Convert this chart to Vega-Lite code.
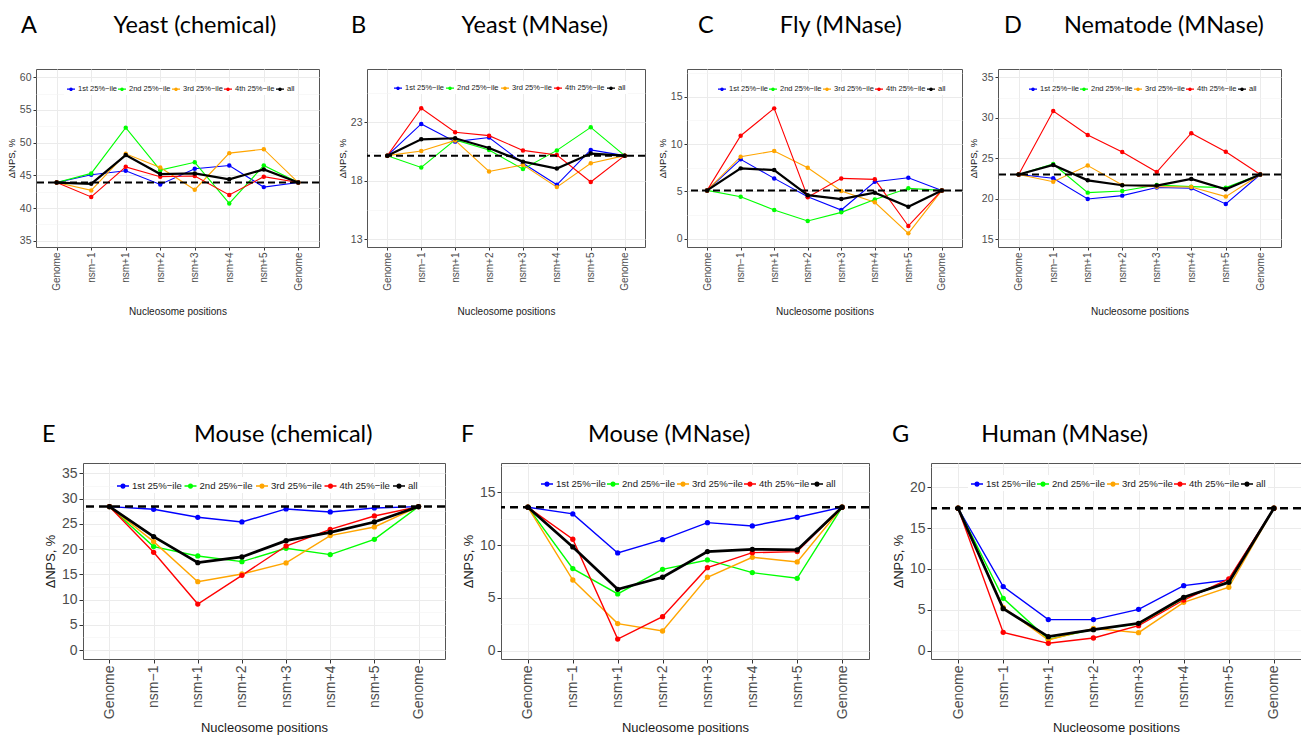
{
"$schema": "https://vega.github.io/schema/vega-lite/v6.json",
"background": "white",
"padding": {"left": 5, "top": 13, "right": 0, "bottom": 0},
"autosize": {"type": "pad"},
"spacing": 394,
"bounds": "flush",
"resolve": {"scale": {"color": "independent", "fill": "independent"}, "legend": {"color": "independent", "fill": "independent"}},
"datasets": {"d": [
{"p":"A","x":0,"s":"q1","v":43.9},{"p":"A","x":1,"s":"q1","v":45.1},{"p":"A","x":2,"s":"q1","v":45.7},{"p":"A","x":3,"s":"q1","v":43.6},{"p":"A","x":4,"s":"q1","v":46.0},{"p":"A","x":5,"s":"q1","v":46.5},{"p":"A","x":6,"s":"q1","v":43.2},{"p":"A","x":7,"s":"q1","v":43.9},
{"p":"A","x":0,"s":"q2","v":43.9},{"p":"A","x":1,"s":"q2","v":45.3},{"p":"A","x":2,"s":"q2","v":52.3},{"p":"A","x":3,"s":"q2","v":45.8},{"p":"A","x":4,"s":"q2","v":47.0},{"p":"A","x":5,"s":"q2","v":40.7},{"p":"A","x":6,"s":"q2","v":46.5},{"p":"A","x":7,"s":"q2","v":43.9},
{"p":"A","x":0,"s":"q3","v":43.9},{"p":"A","x":1,"s":"q3","v":42.7},{"p":"A","x":2,"s":"q3","v":48.3},{"p":"A","x":3,"s":"q3","v":46.2},{"p":"A","x":4,"s":"q3","v":42.8},{"p":"A","x":5,"s":"q3","v":48.4},{"p":"A","x":6,"s":"q3","v":49.0},{"p":"A","x":7,"s":"q3","v":43.9},
{"p":"A","x":0,"s":"q4","v":43.9},{"p":"A","x":1,"s":"q4","v":41.7},{"p":"A","x":2,"s":"q4","v":46.3},{"p":"A","x":3,"s":"q4","v":44.8},{"p":"A","x":4,"s":"q4","v":44.9},{"p":"A","x":5,"s":"q4","v":42.0},{"p":"A","x":6,"s":"q4","v":44.8},{"p":"A","x":7,"s":"q4","v":43.9},
{"p":"A","x":0,"s":"all","v":43.9},{"p":"A","x":1,"s":"all","v":43.7},{"p":"A","x":2,"s":"all","v":48.1},{"p":"A","x":3,"s":"all","v":45.2},{"p":"A","x":4,"s":"all","v":45.3},{"p":"A","x":5,"s":"all","v":44.4},{"p":"A","x":6,"s":"all","v":45.9},{"p":"A","x":7,"s":"all","v":43.9},
{"p":"B","x":0,"s":"q1","v":20.15},{"p":"B","x":1,"s":"q1","v":22.86},{"p":"B","x":2,"s":"q1","v":21.35},{"p":"B","x":3,"s":"q1","v":21.7},{"p":"B","x":4,"s":"q1","v":19.5},{"p":"B","x":5,"s":"q1","v":17.66},{"p":"B","x":6,"s":"q1","v":20.64},{"p":"B","x":7,"s":"q1","v":20.15},
{"p":"B","x":0,"s":"q2","v":20.15},{"p":"B","x":1,"s":"q2","v":19.14},{"p":"B","x":2,"s":"q2","v":21.5},{"p":"B","x":3,"s":"q2","v":20.64},{"p":"B","x":4,"s":"q2","v":19.0},{"p":"B","x":5,"s":"q2","v":20.6},{"p":"B","x":6,"s":"q2","v":22.57},{"p":"B","x":7,"s":"q2","v":20.15},
{"p":"B","x":0,"s":"q3","v":20.15},{"p":"B","x":1,"s":"q3","v":20.55},{"p":"B","x":2,"s":"q3","v":21.45},{"p":"B","x":3,"s":"q3","v":18.8},{"p":"B","x":4,"s":"q3","v":19.36},{"p":"B","x":5,"s":"q3","v":17.46},{"p":"B","x":6,"s":"q3","v":19.5},{"p":"B","x":7,"s":"q3","v":20.15},
{"p":"B","x":0,"s":"q4","v":20.15},{"p":"B","x":1,"s":"q4","v":24.2},{"p":"B","x":2,"s":"q4","v":22.15},{"p":"B","x":3,"s":"q4","v":21.86},{"p":"B","x":4,"s":"q4","v":20.6},{"p":"B","x":5,"s":"q4","v":20.2},{"p":"B","x":6,"s":"q4","v":17.9},{"p":"B","x":7,"s":"q4","v":20.15},
{"p":"B","x":0,"s":"all","v":20.15},{"p":"B","x":1,"s":"all","v":21.55},{"p":"B","x":2,"s":"all","v":21.64},{"p":"B","x":3,"s":"all","v":20.8},{"p":"B","x":4,"s":"all","v":19.64},{"p":"B","x":5,"s":"all","v":19.05},{"p":"B","x":6,"s":"all","v":20.33},{"p":"B","x":7,"s":"all","v":20.15},
{"p":"C","x":0,"s":"q1","v":5.1},{"p":"C","x":1,"s":"q1","v":8.38},{"p":"C","x":2,"s":"q1","v":6.37},{"p":"C","x":3,"s":"q1","v":4.44},{"p":"C","x":4,"s":"q1","v":3.03},{"p":"C","x":5,"s":"q1","v":6.02},{"p":"C","x":6,"s":"q1","v":6.44},{"p":"C","x":7,"s":"q1","v":5.1},
{"p":"C","x":0,"s":"q2","v":5.1},{"p":"C","x":1,"s":"q2","v":4.44},{"p":"C","x":2,"s":"q2","v":3.03},{"p":"C","x":3,"s":"q2","v":1.87},{"p":"C","x":4,"s":"q2","v":2.78},{"p":"C","x":5,"s":"q2","v":4.15},{"p":"C","x":6,"s":"q2","v":5.32},{"p":"C","x":7,"s":"q2","v":5.1},
{"p":"C","x":0,"s":"q3","v":5.1},{"p":"C","x":1,"s":"q3","v":8.66},{"p":"C","x":2,"s":"q3","v":9.26},{"p":"C","x":3,"s":"q3","v":7.5},{"p":"C","x":4,"s":"q3","v":5.04},{"p":"C","x":5,"s":"q3","v":3.84},{"p":"C","x":6,"s":"q3","v":0.56},{"p":"C","x":7,"s":"q3","v":5.1},
{"p":"C","x":0,"s":"q4","v":5.1},{"p":"C","x":1,"s":"q4","v":10.88},{"p":"C","x":2,"s":"q4","v":13.77},{"p":"C","x":3,"s":"q4","v":4.37},{"p":"C","x":4,"s":"q4","v":6.37},{"p":"C","x":5,"s":"q4","v":6.27},{"p":"C","x":6,"s":"q4","v":1.34},{"p":"C","x":7,"s":"q4","v":5.1},
{"p":"C","x":0,"s":"all","v":5.1},{"p":"C","x":1,"s":"all","v":7.43},{"p":"C","x":2,"s":"all","v":7.25},{"p":"C","x":3,"s":"all","v":4.6},{"p":"C","x":4,"s":"all","v":4.19},{"p":"C","x":5,"s":"all","v":4.86},{"p":"C","x":6,"s":"all","v":3.38},{"p":"C","x":7,"s":"all","v":5.1},
{"p":"D","x":0,"s":"q1","v":23.0},{"p":"D","x":1,"s":"q1","v":22.53},{"p":"D","x":2,"s":"q1","v":19.98},{"p":"D","x":3,"s":"q1","v":20.39},{"p":"D","x":4,"s":"q1","v":21.4},{"p":"D","x":5,"s":"q1","v":21.3},{"p":"D","x":6,"s":"q1","v":19.36},{"p":"D","x":7,"s":"q1","v":23.0},
{"p":"D","x":0,"s":"q2","v":23.0},{"p":"D","x":1,"s":"q2","v":24.3},{"p":"D","x":2,"s":"q2","v":20.76},{"p":"D","x":3,"s":"q2","v":20.97},{"p":"D","x":4,"s":"q2","v":21.7},{"p":"D","x":5,"s":"q2","v":21.5},{"p":"D","x":6,"s":"q2","v":21.38},{"p":"D","x":7,"s":"q2","v":23.0},
{"p":"D","x":0,"s":"q3","v":23.0},{"p":"D","x":1,"s":"q3","v":22.1},{"p":"D","x":2,"s":"q3","v":24.1},{"p":"D","x":3,"s":"q3","v":21.7},{"p":"D","x":4,"s":"q3","v":21.5},{"p":"D","x":5,"s":"q3","v":21.45},{"p":"D","x":6,"s":"q3","v":20.27},{"p":"D","x":7,"s":"q3","v":23.0},
{"p":"D","x":0,"s":"q4","v":23.0},{"p":"D","x":1,"s":"q4","v":30.84},{"p":"D","x":2,"s":"q4","v":27.88},{"p":"D","x":3,"s":"q4","v":25.78},{"p":"D","x":4,"s":"q4","v":23.3},{"p":"D","x":5,"s":"q4","v":28.09},{"p":"D","x":6,"s":"q4","v":25.8},{"p":"D","x":7,"s":"q4","v":23.0},
{"p":"D","x":0,"s":"all","v":23.0},{"p":"D","x":1,"s":"all","v":24.18},{"p":"D","x":2,"s":"all","v":22.28},{"p":"D","x":3,"s":"all","v":21.67},{"p":"D","x":4,"s":"all","v":21.63},{"p":"D","x":5,"s":"all","v":22.45},{"p":"D","x":6,"s":"all","v":21.17},{"p":"D","x":7,"s":"all","v":23.0},
{"p":"E","x":0,"s":"q1","v":28.4},{"p":"E","x":1,"s":"q1","v":27.87},{"p":"E","x":2,"s":"q1","v":26.29},{"p":"E","x":3,"s":"q1","v":25.36},{"p":"E","x":4,"s":"q1","v":27.94},{"p":"E","x":5,"s":"q1","v":27.34},{"p":"E","x":6,"s":"q1","v":28.14},{"p":"E","x":7,"s":"q1","v":28.4},
{"p":"E","x":0,"s":"q2","v":28.4},{"p":"E","x":1,"s":"q2","v":20.48},{"p":"E","x":2,"s":"q2","v":18.63},{"p":"E","x":3,"s":"q2","v":17.5},{"p":"E","x":4,"s":"q2","v":20.15},{"p":"E","x":5,"s":"q2","v":18.9},{"p":"E","x":6,"s":"q2","v":21.93},{"p":"E","x":7,"s":"q2","v":28.4},
{"p":"E","x":0,"s":"q3","v":28.4},{"p":"E","x":1,"s":"q3","v":21.47},{"p":"E","x":2,"s":"q3","v":13.54},{"p":"E","x":3,"s":"q3","v":15.06},{"p":"E","x":4,"s":"q3","v":17.24},{"p":"E","x":5,"s":"q3","v":22.66},{"p":"E","x":6,"s":"q3","v":24.37},{"p":"E","x":7,"s":"q3","v":28.4},
{"p":"E","x":0,"s":"q4","v":28.4},{"p":"E","x":1,"s":"q4","v":19.35},{"p":"E","x":2,"s":"q4","v":9.1},{"p":"E","x":3,"s":"q4","v":14.8},{"p":"E","x":4,"s":"q4","v":20.6},{"p":"E","x":5,"s":"q4","v":23.9},{"p":"E","x":6,"s":"q4","v":26.55},{"p":"E","x":7,"s":"q4","v":28.4},
{"p":"E","x":0,"s":"all","v":28.4},{"p":"E","x":1,"s":"all","v":22.46},{"p":"E","x":2,"s":"all","v":17.3},{"p":"E","x":3,"s":"all","v":18.43},{"p":"E","x":4,"s":"all","v":21.66},{"p":"E","x":5,"s":"all","v":23.3},{"p":"E","x":6,"s":"all","v":25.36},{"p":"E","x":7,"s":"all","v":28.4},
{"p":"F","x":0,"s":"q1","v":13.58},{"p":"F","x":1,"s":"q1","v":12.95},{"p":"F","x":2,"s":"q1","v":9.25},{"p":"F","x":3,"s":"q1","v":10.51},{"p":"F","x":4,"s":"q1","v":12.12},{"p":"F","x":5,"s":"q1","v":11.81},{"p":"F","x":6,"s":"q1","v":12.63},{"p":"F","x":7,"s":"q1","v":13.58},
{"p":"F","x":0,"s":"q2","v":13.58},{"p":"F","x":1,"s":"q2","v":7.77},{"p":"F","x":2,"s":"q2","v":5.37},{"p":"F","x":3,"s":"q2","v":7.7},{"p":"F","x":4,"s":"q2","v":8.59},{"p":"F","x":5,"s":"q2","v":7.39},{"p":"F","x":6,"s":"q2","v":6.85},{"p":"F","x":7,"s":"q2","v":13.58},
{"p":"F","x":0,"s":"q3","v":13.58},{"p":"F","x":1,"s":"q3","v":6.69},{"p":"F","x":2,"s":"q3","v":2.56},{"p":"F","x":3,"s":"q3","v":1.86},{"p":"F","x":4,"s":"q3","v":6.95},{"p":"F","x":5,"s":"q3","v":8.84},{"p":"F","x":6,"s":"q3","v":8.4},{"p":"F","x":7,"s":"q3","v":13.58},
{"p":"F","x":0,"s":"q4","v":13.58},{"p":"F","x":1,"s":"q4","v":10.55},{"p":"F","x":2,"s":"q4","v":1.1},{"p":"F","x":3,"s":"q4","v":3.22},{"p":"F","x":4,"s":"q4","v":7.86},{"p":"F","x":5,"s":"q4","v":9.28},{"p":"F","x":6,"s":"q4","v":9.38},{"p":"F","x":7,"s":"q4","v":13.58},
{"p":"F","x":0,"s":"all","v":13.58},{"p":"F","x":1,"s":"all","v":9.82},{"p":"F","x":2,"s":"all","v":5.81},{"p":"F","x":3,"s":"all","v":6.95},{"p":"F","x":4,"s":"all","v":9.38},{"p":"F","x":5,"s":"all","v":9.6},{"p":"F","x":6,"s":"all","v":9.54},{"p":"F","x":7,"s":"all","v":13.58},
{"p":"G","x":0,"s":"q1","v":17.43},{"p":"G","x":1,"s":"q1","v":7.84},{"p":"G","x":2,"s":"q1","v":3.8},{"p":"G","x":3,"s":"q1","v":3.8},{"p":"G","x":4,"s":"q1","v":5.06},{"p":"G","x":5,"s":"q1","v":7.96},{"p":"G","x":6,"s":"q1","v":8.65},{"p":"G","x":7,"s":"q1","v":17.43},
{"p":"G","x":0,"s":"q2","v":17.43},{"p":"G","x":1,"s":"q2","v":6.41},{"p":"G","x":2,"s":"q2","v":1.39},{"p":"G","x":3,"s":"q2","v":2.6},{"p":"G","x":4,"s":"q2","v":3.27},{"p":"G","x":5,"s":"q2","v":6.4},{"p":"G","x":6,"s":"q2","v":8.45},{"p":"G","x":7,"s":"q2","v":17.43},
{"p":"G","x":0,"s":"q3","v":17.43},{"p":"G","x":1,"s":"q3","v":5.3},{"p":"G","x":2,"s":"q3","v":1.3},{"p":"G","x":3,"s":"q3","v":2.73},{"p":"G","x":4,"s":"q3","v":2.2},{"p":"G","x":5,"s":"q3","v":5.92},{"p":"G","x":6,"s":"q3","v":7.76},{"p":"G","x":7,"s":"q3","v":17.43},
{"p":"G","x":0,"s":"q4","v":17.43},{"p":"G","x":1,"s":"q4","v":2.24},{"p":"G","x":2,"s":"q4","v":0.9},{"p":"G","x":3,"s":"q4","v":1.55},{"p":"G","x":4,"s":"q4","v":3.06},{"p":"G","x":5,"s":"q4","v":6.2},{"p":"G","x":6,"s":"q4","v":8.78},{"p":"G","x":7,"s":"q4","v":17.43},
{"p":"G","x":0,"s":"all","v":17.43},{"p":"G","x":1,"s":"all","v":5.14},{"p":"G","x":2,"s":"all","v":1.71},{"p":"G","x":3,"s":"all","v":2.57},{"p":"G","x":4,"s":"all","v":3.35},{"p":"G","x":5,"s":"all","v":6.53},{"p":"G","x":6,"s":"all","v":8.37},{"p":"G","x":7,"s":"all","v":17.43}
]},
"vconcat": [
{"hconcat": [
{"width":283,"height":178,"title":{"text":"A\u00a0\u00a0\u00a0\u00a0\u00a0\u00a0\u00a0\u00a0\u00a0\u00a0\u00a0\u00a0\u00a0Yeast (chemical)","dx":-15,"offset":32},
 "data":{"name":"d"},"transform":[{"filter":"datum.p=='A'"}],"resolve":{"axis":{"y":"independent"}},
 "layer":[
  {"transform":[{"filter":"datum.s!='all'"}],"mark":{"type":"line","strokeWidth":1.1},
   "encoding":{
    "x":{"field":"x","type":"ordinal","scale":{"type":"point","padding":0.6},"axis":{"title":"Nucleosome positions","labelAngle":270,"labelAlign":"right","labelBaseline":"middle","labelExpr":"['Genome','nsm−1','nsm+1','nsm+2','nsm+3','nsm+4','nsm+5','Genome'][datum.value]","labelFontSize":10,"titleFontSize":10,"tickSize":3,"labelPadding":2,"titlePadding":16,"grid":true}},
    "y":{"field":"v","type":"quantitative","scale":{"domain":[34.04,61.27],"nice":false,"zero":false},"axis":{"title":"ΔNPS, %","values":[35,40,45,50,55,60],"labelFontSize":10.5,"titleFontSize":9.5,"tickSize":3,"labelPadding":2,"titlePadding":3,"grid":true}},
    "color":{"field":"s","type":"nominal","scale":{"domain":["q1","q2","q3","q4","all"],"range":["#0000ff","#00ff00","#ffa500","#ff0000","#000000"]},
     "legend":{"orient":"none","legendX":28,"legendY":13,"direction":"horizontal","columns":5,"title":null,"labelExpr":"datum.label=='q1'?'1st 25%−ile':datum.label=='q2'?'2nd 25%−ile':datum.label=='q3'?'3rd 25%−ile':datum.label=='q4'?'4th 25%−ile':'all'","labelFontSize":7.5,"symbolType":"M-1,0L1,0M0.3,0A0.3,0.3,0,1,1,-0.3,0A0.3,0.3,0,1,1,0.3,0Z","symbolSize":64,"symbolStrokeWidth":1.2,"columnPadding":-2,"labelOffset":2,"fillColor":"white","padding":2}}}},
  {"transform":[{"filter":"datum.s!='all'"}],"mark":{"type":"circle","size":20,"opacity":1},
   "encoding":{"x":{"field":"x","type":"ordinal"},"y":{"field":"v","type":"quantitative","axis":null},
    "fill":{"field":"s","type":"nominal","scale":{"domain":["q1","q2","q3","q4","all"],"range":["#0000ff","#00ff00","#ffa500","#ff0000","#000000"]},"legend":null}}},
  {"transform":[{"filter":"datum.s=='all' && datum.x==0"}],"mark":{"type":"rule","strokeDash":[7,4],"strokeWidth":2,"color":"black"},
   "encoding":{"y":{"field":"v","type":"quantitative","axis":{"orient":"right","values":[37.5,42.5,47.5,52.5,57.5],"grid":true,"gridColor":"#f4f4f4","gridWidth":0.6,"labels":false,"ticks":false,"domain":false,"title":null}}}},
  {"transform":[{"filter":"datum.s=='all'"}],"mark":{"type":"line","strokeWidth":2.2},
   "encoding":{"x":{"field":"x","type":"ordinal"},"y":{"field":"v","type":"quantitative","axis":null},
    "color":{"field":"s","type":"nominal","scale":{"domain":["q1","q2","q3","q4","all"],"range":["#0000ff","#00ff00","#ffa500","#ff0000","#000000"]}}}},
  {"transform":[{"filter":"datum.s=='all'"}],"mark":{"type":"circle","size":20,"opacity":1},
   "encoding":{"x":{"field":"x","type":"ordinal"},"y":{"field":"v","type":"quantitative","axis":null},
    "fill":{"field":"s","type":"nominal","scale":{"domain":["q1","q2","q3","q4","all"],"range":["#0000ff","#00ff00","#ffa500","#ff0000","#000000"]},"legend":null}}}
 ]},
{"width":48,"height":178,"data":{"values":[]},"mark":{"type":"point","opacity":0},"view":{"stroke":null}},
{"width":278,"height":178,"title":{"text":"B\u00a0\u00a0\u00a0\u00a0\u00a0\u00a0\u00a0\u00a0\u00a0\u00a0\u00a0\u00a0\u00a0\u00a0\u00a0\u00a0Yeast (MNase)","dx":-16,"offset":32},
 "data":{"name":"d"},"transform":[{"filter":"datum.p=='B'"}],"resolve":{"axis":{"y":"independent"}},
 "layer":[
  {"transform":[{"filter":"datum.s!='all'"}],"mark":{"type":"line","strokeWidth":1.1},
   "encoding":{
    "x":{"field":"x","type":"ordinal","scale":{"type":"point","padding":0.6},"axis":{"title":"Nucleosome positions","labelAngle":270,"labelAlign":"right","labelBaseline":"middle","labelExpr":"['Genome','nsm−1','nsm+1','nsm+2','nsm+3','nsm+4','nsm+5','Genome'][datum.value]","labelFontSize":10,"titleFontSize":10,"tickSize":3,"labelPadding":2,"titlePadding":16,"grid":true}},
    "y":{"field":"v","type":"quantitative","scale":{"domain":[12.34,27.56],"nice":false,"zero":false},"axis":{"title":"ΔNPS, %","values":[13,18,23],"labelFontSize":10.5,"titleFontSize":9.5,"tickSize":3,"labelPadding":2,"titlePadding":3,"grid":true}},
    "color":{"field":"s","type":"nominal","scale":{"domain":["q1","q2","q3","q4","all"],"range":["#0000ff","#00ff00","#ffa500","#ff0000","#000000"]},
     "legend":{"orient":"none","legendX":24,"legendY":12,"direction":"horizontal","columns":5,"title":null,"labelExpr":"datum.label=='q1'?'1st 25%−ile':datum.label=='q2'?'2nd 25%−ile':datum.label=='q3'?'3rd 25%−ile':datum.label=='q4'?'4th 25%−ile':'all'","labelFontSize":7.5,"symbolType":"M-1,0L1,0M0.3,0A0.3,0.3,0,1,1,-0.3,0A0.3,0.3,0,1,1,0.3,0Z","symbolSize":64,"symbolStrokeWidth":1.2,"columnPadding":-1,"labelOffset":2,"fillColor":"white","padding":2}}}},
  {"transform":[{"filter":"datum.s!='all'"}],"mark":{"type":"circle","size":20,"opacity":1},
   "encoding":{"x":{"field":"x","type":"ordinal"},"y":{"field":"v","type":"quantitative","axis":null},
    "fill":{"field":"s","type":"nominal","scale":{"domain":["q1","q2","q3","q4","all"],"range":["#0000ff","#00ff00","#ffa500","#ff0000","#000000"]},"legend":null}}},
  {"transform":[{"filter":"datum.s=='all' && datum.x==0"}],"mark":{"type":"rule","strokeDash":[7,4],"strokeWidth":2,"color":"black"},
   "encoding":{"y":{"field":"v","type":"quantitative","axis":{"orient":"right","values":[15.5,20.5,25.5],"grid":true,"gridColor":"#f4f4f4","gridWidth":0.6,"labels":false,"ticks":false,"domain":false,"title":null}}}},
  {"transform":[{"filter":"datum.s=='all'"}],"mark":{"type":"line","strokeWidth":2.2},
   "encoding":{"x":{"field":"x","type":"ordinal"},"y":{"field":"v","type":"quantitative","axis":null},
    "color":{"field":"s","type":"nominal","scale":{"domain":["q1","q2","q3","q4","all"],"range":["#0000ff","#00ff00","#ffa500","#ff0000","#000000"]}}}},
  {"transform":[{"filter":"datum.s=='all'"}],"mark":{"type":"circle","size":20,"opacity":1},
   "encoding":{"x":{"field":"x","type":"ordinal"},"y":{"field":"v","type":"quantitative","axis":null},
    "fill":{"field":"s","type":"nominal","scale":{"domain":["q1","q2","q3","q4","all"],"range":["#0000ff","#00ff00","#ffa500","#ff0000","#000000"]},"legend":null}}}
 ]},
{"width":42,"height":178,"data":{"values":[]},"mark":{"type":"point","opacity":0},"view":{"stroke":null}},
{"width":275,"height":178,"title":{"text":"C\u00a0\u00a0\u00a0\u00a0\u00a0\u00a0\u00a0\u00a0\u00a0\u00a0\u00a0Fly (MNase)","dx":11,"offset":32},
 "data":{"name":"d"},"transform":[{"filter":"datum.p=='C'"}],"resolve":{"axis":{"y":"independent"}},
 "layer":[
  {"transform":[{"filter":"datum.s!='all'"}],"mark":{"type":"line","strokeWidth":1.1},
   "encoding":{
    "x":{"field":"x","type":"ordinal","scale":{"type":"point","padding":0.6},"axis":{"title":"Nucleosome positions","labelAngle":270,"labelAlign":"right","labelBaseline":"middle","labelExpr":"['Genome','nsm−1','nsm+1','nsm+2','nsm+3','nsm+4','nsm+5','Genome'][datum.value]","labelFontSize":10,"titleFontSize":10,"tickSize":3,"labelPadding":2,"titlePadding":16,"grid":true}},
    "y":{"field":"v","type":"quantitative","scale":{"domain":[-0.88,17.93],"nice":false,"zero":false},"axis":{"title":"ΔNPS, %","values":[0,5,10,15],"labelFontSize":10.5,"titleFontSize":9.5,"tickSize":3,"labelPadding":2,"titlePadding":3,"grid":true}},
    "color":{"field":"s","type":"nominal","scale":{"domain":["q1","q2","q3","q4","all"],"range":["#0000ff","#00ff00","#ffa500","#ff0000","#000000"]},
     "legend":{"orient":"none","legendX":28,"legendY":13,"direction":"horizontal","columns":5,"title":null,"labelExpr":"datum.label=='q1'?'1st 25%−ile':datum.label=='q2'?'2nd 25%−ile':datum.label=='q3'?'3rd 25%−ile':datum.label=='q4'?'4th 25%−ile':'all'","labelFontSize":7.5,"symbolType":"M-1,0L1,0M0.3,0A0.3,0.3,0,1,1,-0.3,0A0.3,0.3,0,1,1,0.3,0Z","symbolSize":64,"symbolStrokeWidth":1.2,"columnPadding":-4,"labelOffset":2,"fillColor":"white","padding":2}}}},
  {"transform":[{"filter":"datum.s!='all'"}],"mark":{"type":"circle","size":20,"opacity":1},
   "encoding":{"x":{"field":"x","type":"ordinal"},"y":{"field":"v","type":"quantitative","axis":null},
    "fill":{"field":"s","type":"nominal","scale":{"domain":["q1","q2","q3","q4","all"],"range":["#0000ff","#00ff00","#ffa500","#ff0000","#000000"]},"legend":null}}},
  {"transform":[{"filter":"datum.s=='all' && datum.x==0"}],"mark":{"type":"rule","strokeDash":[7,4],"strokeWidth":2,"color":"black"},
   "encoding":{"y":{"field":"v","type":"quantitative","axis":{"orient":"right","values":[2.5,7.5,12.5,17.5],"grid":true,"gridColor":"#f4f4f4","gridWidth":0.6,"labels":false,"ticks":false,"domain":false,"title":null}}}},
  {"transform":[{"filter":"datum.s=='all'"}],"mark":{"type":"line","strokeWidth":2.2},
   "encoding":{"x":{"field":"x","type":"ordinal"},"y":{"field":"v","type":"quantitative","axis":null},
    "color":{"field":"s","type":"nominal","scale":{"domain":["q1","q2","q3","q4","all"],"range":["#0000ff","#00ff00","#ffa500","#ff0000","#000000"]}}}},
  {"transform":[{"filter":"datum.s=='all'"}],"mark":{"type":"circle","size":20,"opacity":1},
   "encoding":{"x":{"field":"x","type":"ordinal"},"y":{"field":"v","type":"quantitative","axis":null},
    "fill":{"field":"s","type":"nominal","scale":{"domain":["q1","q2","q3","q4","all"],"range":["#0000ff","#00ff00","#ffa500","#ff0000","#000000"]},"legend":null}}}
 ]},
{"width":36,"height":178,"data":{"values":[]},"mark":{"type":"point","opacity":0},"view":{"stroke":null}},
{"width":283,"height":178,"title":{"text":"D\u00a0\u00a0\u00a0\u00a0\u00a0\u00a0\u00a0Nematode (MNase)","dx":6,"offset":32},
 "data":{"name":"d"},"transform":[{"filter":"datum.p=='D'"}],"resolve":{"axis":{"y":"independent"}},
 "layer":[
  {"transform":[{"filter":"datum.s!='all'"}],"mark":{"type":"line","strokeWidth":1.1},
   "encoding":{
    "x":{"field":"x","type":"ordinal","scale":{"type":"point","padding":0.6},"axis":{"title":"Nucleosome positions","labelAngle":270,"labelAlign":"right","labelBaseline":"middle","labelExpr":"['Genome','nsm−1','nsm+1','nsm+2','nsm+3','nsm+4','nsm+5','Genome'][datum.value]","labelFontSize":10,"titleFontSize":10,"tickSize":3,"labelPadding":2,"titlePadding":16,"grid":true}},
    "y":{"field":"v","type":"quantitative","scale":{"domain":[14.05,36.02],"nice":false,"zero":false},"axis":{"title":"ΔNPS, %","values":[15,20,25,30,35],"labelFontSize":10.5,"titleFontSize":9.5,"tickSize":3,"labelPadding":2,"titlePadding":3,"grid":true}},
    "color":{"field":"s","type":"nominal","scale":{"domain":["q1","q2","q3","q4","all"],"range":["#0000ff","#00ff00","#ffa500","#ff0000","#000000"]},
     "legend":{"orient":"none","legendX":28,"legendY":13,"direction":"horizontal","columns":5,"title":null,"labelExpr":"datum.label=='q1'?'1st 25%−ile':datum.label=='q2'?'2nd 25%−ile':datum.label=='q3'?'3rd 25%−ile':datum.label=='q4'?'4th 25%−ile':'all'","labelFontSize":7.5,"symbolType":"M-1,0L1,0M0.3,0A0.3,0.3,0,1,1,-0.3,0A0.3,0.3,0,1,1,0.3,0Z","symbolSize":64,"symbolStrokeWidth":1.2,"columnPadding":-2.75,"labelOffset":2,"fillColor":"white","padding":2}}}},
  {"transform":[{"filter":"datum.s!='all'"}],"mark":{"type":"circle","size":20,"opacity":1},
   "encoding":{"x":{"field":"x","type":"ordinal"},"y":{"field":"v","type":"quantitative","axis":null},
    "fill":{"field":"s","type":"nominal","scale":{"domain":["q1","q2","q3","q4","all"],"range":["#0000ff","#00ff00","#ffa500","#ff0000","#000000"]},"legend":null}}},
  {"transform":[{"filter":"datum.s=='all' && datum.x==0"}],"mark":{"type":"rule","strokeDash":[7,4],"strokeWidth":2,"color":"black"},
   "encoding":{"y":{"field":"v","type":"quantitative","axis":{"orient":"right","values":[17.5,22.5,27.5,32.5],"grid":true,"gridColor":"#f4f4f4","gridWidth":0.6,"labels":false,"ticks":false,"domain":false,"title":null}}}},
  {"transform":[{"filter":"datum.s=='all'"}],"mark":{"type":"line","strokeWidth":2.2},
   "encoding":{"x":{"field":"x","type":"ordinal"},"y":{"field":"v","type":"quantitative","axis":null},
    "color":{"field":"s","type":"nominal","scale":{"domain":["q1","q2","q3","q4","all"],"range":["#0000ff","#00ff00","#ffa500","#ff0000","#000000"]}}}},
  {"transform":[{"filter":"datum.s=='all'"}],"mark":{"type":"circle","size":20,"opacity":1},
   "encoding":{"x":{"field":"x","type":"ordinal"},"y":{"field":"v","type":"quantitative","axis":null},
    "fill":{"field":"s","type":"nominal","scale":{"domain":["q1","q2","q3","q4","all"],"range":["#0000ff","#00ff00","#ffa500","#ff0000","#000000"]},"legend":null}}}
 ]}
], "spacing": 0, "bounds": "flush",
 "resolve": {"scale": {"color": "independent", "fill": "independent"}, "legend": {"color": "independent", "fill": "independent"}}},
{"hconcat": [
{"width":47,"height":196,"data":{"values":[]},"mark":{"type":"point","opacity":0},"view":{"stroke":null}},
{"width":362,"height":196,"title":{"text":"E\u00a0\u00a0\u00a0\u00a0\u00a0\u00a0\u00a0\u00a0\u00a0\u00a0\u00a0\u00a0\u00a0\u00a0\u00a0\u00a0\u00a0\u00a0\u00a0\u00a0\u00a0\u00a0\u00a0Mouse (chemical)","dx":-41,"offset":17},
 "data":{"name":"d"},"transform":[{"filter":"datum.p=='E'"}],"resolve":{"axis":{"y":"independent"}},
 "layer":[
  {"transform":[{"filter":"datum.s!='all'"}],"mark":{"type":"line","strokeWidth":1.4},
   "encoding":{
    "x":{"field":"x","type":"ordinal","scale":{"type":"point","padding":0.6},"axis":{"title":"Nucleosome positions","labelAngle":270,"labelAlign":"right","labelBaseline":"middle","labelExpr":"['Genome','nsm−1','nsm+1','nsm+2','nsm+3','nsm+4','nsm+5','Genome'][datum.value]","labelFontSize":14,"titleFontSize":13,"tickSize":4,"labelPadding":2,"titlePadding":3,"grid":true}},
    "y":{"field":"v","type":"quantitative","scale":{"domain":[-1.78,37.04],"nice":false,"zero":false},"axis":{"title":"ΔNPS, %","values":[0,5,10,15,20,25,30,35],"labelFontSize":14,"titleFontSize":12.8,"tickSize":4,"labelPadding":2,"titlePadding":4,"grid":true}},
    "color":{"field":"s","type":"nominal","scale":{"domain":["q1","q2","q3","q4","all"],"range":["#0000ff","#00ff00","#ffa500","#ff0000","#000000"]},
     "legend":{"orient":"none","legendX":31,"legendY":14,"direction":"horizontal","columns":5,"title":null,"labelExpr":"datum.label=='q1'?'1st 25%−ile':datum.label=='q2'?'2nd 25%−ile':datum.label=='q3'?'3rd 25%−ile':datum.label=='q4'?'4th 25%−ile':'all'","labelFontSize":9.6,"symbolType":"M-1,0L1,0M0.3,0A0.3,0.3,0,1,1,-0.3,0A0.3,0.3,0,1,1,0.3,0Z","symbolSize":144,"symbolStrokeWidth":1.5,"columnPadding":-0.5,"labelOffset":2,"fillColor":"white","padding":2}}}},
  {"transform":[{"filter":"datum.s!='all'"}],"mark":{"type":"circle","size":28,"opacity":1},
   "encoding":{"x":{"field":"x","type":"ordinal"},"y":{"field":"v","type":"quantitative","axis":null},
    "fill":{"field":"s","type":"nominal","scale":{"domain":["q1","q2","q3","q4","all"],"range":["#0000ff","#00ff00","#ffa500","#ff0000","#000000"]},"legend":null}}},
  {"transform":[{"filter":"datum.s=='all' && datum.x==0"}],"mark":{"type":"rule","strokeDash":[8,5],"strokeWidth":2.5,"color":"black"},
   "encoding":{"y":{"field":"v","type":"quantitative","axis":{"orient":"right","values":[2.5,7.5,12.5,17.5,22.5,27.5,32.5],"grid":true,"gridColor":"#f4f4f4","gridWidth":0.6,"labels":false,"ticks":false,"domain":false,"title":null}}}},
  {"transform":[{"filter":"datum.s=='all'"}],"mark":{"type":"line","strokeWidth":2.7},
   "encoding":{"x":{"field":"x","type":"ordinal"},"y":{"field":"v","type":"quantitative","axis":null},
    "color":{"field":"s","type":"nominal","scale":{"domain":["q1","q2","q3","q4","all"],"range":["#0000ff","#00ff00","#ffa500","#ff0000","#000000"]}}}},
  {"transform":[{"filter":"datum.s=='all'"}],"mark":{"type":"circle","size":28,"opacity":1},
   "encoding":{"x":{"field":"x","type":"ordinal"},"y":{"field":"v","type":"quantitative","axis":null},
    "fill":{"field":"s","type":"nominal","scale":{"domain":["q1","q2","q3","q4","all"],"range":["#0000ff","#00ff00","#ffa500","#ff0000","#000000"]},"legend":null}}}
 ]},
{"width":56,"height":196,"data":{"values":[]},"mark":{"type":"point","opacity":0},"view":{"stroke":null}},
{"width":368,"height":196,"title":{"text":"F\u00a0\u00a0\u00a0\u00a0\u00a0\u00a0\u00a0\u00a0\u00a0\u00a0\u00a0\u00a0\u00a0\u00a0\u00a0\u00a0\u00a0\u00a0\u00a0Mouse (MNase)","dx":-40,"offset":17},
 "data":{"name":"d"},"transform":[{"filter":"datum.p=='F'"}],"resolve":{"axis":{"y":"independent"}},
 "layer":[
  {"transform":[{"filter":"datum.s!='all'"}],"mark":{"type":"line","strokeWidth":1.4},
   "encoding":{
    "x":{"field":"x","type":"ordinal","scale":{"type":"point","padding":0.6},"axis":{"title":"Nucleosome positions","labelAngle":270,"labelAlign":"right","labelBaseline":"middle","labelExpr":"['Genome','nsm−1','nsm+1','nsm+2','nsm+3','nsm+4','nsm+5','Genome'][datum.value]","labelFontSize":14,"titleFontSize":13,"tickSize":4,"labelPadding":2,"titlePadding":3,"grid":true}},
    "y":{"field":"v","type":"quantitative","scale":{"domain":[-0.79,17.77],"nice":false,"zero":false},"axis":{"title":"ΔNPS, %","values":[0,5,10,15],"labelFontSize":14,"titleFontSize":12.8,"tickSize":4,"labelPadding":2,"titlePadding":4,"grid":true}},
    "color":{"field":"s","type":"nominal","scale":{"domain":["q1","q2","q3","q4","all"],"range":["#0000ff","#00ff00","#ffa500","#ff0000","#000000"]},
     "legend":{"orient":"none","legendX":37,"legendY":12,"direction":"horizontal","columns":5,"title":null,"labelExpr":"datum.label=='q1'?'1st 25%−ile':datum.label=='q2'?'2nd 25%−ile':datum.label=='q3'?'3rd 25%−ile':datum.label=='q4'?'4th 25%−ile':'all'","labelFontSize":9.6,"symbolType":"M-1,0L1,0M0.3,0A0.3,0.3,0,1,1,-0.3,0A0.3,0.3,0,1,1,0.3,0Z","symbolSize":144,"symbolStrokeWidth":1.5,"columnPadding":-4,"labelOffset":2,"fillColor":"white","padding":2}}}},
  {"transform":[{"filter":"datum.s!='all'"}],"mark":{"type":"circle","size":28,"opacity":1},
   "encoding":{"x":{"field":"x","type":"ordinal"},"y":{"field":"v","type":"quantitative","axis":null},
    "fill":{"field":"s","type":"nominal","scale":{"domain":["q1","q2","q3","q4","all"],"range":["#0000ff","#00ff00","#ffa500","#ff0000","#000000"]},"legend":null}}},
  {"transform":[{"filter":"datum.s=='all' && datum.x==0"}],"mark":{"type":"rule","strokeDash":[8,5],"strokeWidth":2.5,"color":"black"},
   "encoding":{"y":{"field":"v","type":"quantitative","axis":{"orient":"right","values":[2.5,7.5,12.5,17.5],"grid":true,"gridColor":"#f4f4f4","gridWidth":0.6,"labels":false,"ticks":false,"domain":false,"title":null}}}},
  {"transform":[{"filter":"datum.s=='all'"}],"mark":{"type":"line","strokeWidth":2.7},
   "encoding":{"x":{"field":"x","type":"ordinal"},"y":{"field":"v","type":"quantitative","axis":null},
    "color":{"field":"s","type":"nominal","scale":{"domain":["q1","q2","q3","q4","all"],"range":["#0000ff","#00ff00","#ffa500","#ff0000","#000000"]}}}},
  {"transform":[{"filter":"datum.s=='all'"}],"mark":{"type":"circle","size":28,"opacity":1},
   "encoding":{"x":{"field":"x","type":"ordinal"},"y":{"field":"v","type":"quantitative","axis":null},
    "fill":{"field":"s","type":"nominal","scale":{"domain":["q1","q2","q3","q4","all"],"range":["#0000ff","#00ff00","#ffa500","#ff0000","#000000"]},"legend":null}}}
 ]},
{"width":62,"height":196,"data":{"values":[]},"mark":{"type":"point","opacity":0},"view":{"stroke":null}},
{"width":370,"height":196,"title":{"text":"G\u00a0\u00a0\u00a0\u00a0\u00a0\u00a0\u00a0\u00a0\u00a0\u00a0\u00a0\u00a0Human (MNase)","dx":-39,"offset":17},
 "data":{"name":"d"},"transform":[{"filter":"datum.p=='G'"}],"resolve":{"axis":{"y":"independent"}},
 "layer":[
  {"transform":[{"filter":"datum.s!='all'"}],"mark":{"type":"line","strokeWidth":1.4},
   "encoding":{
    "x":{"field":"x","type":"ordinal","scale":{"type":"point","padding":0.6},"axis":{"title":"Nucleosome positions","labelAngle":270,"labelAlign":"right","labelBaseline":"middle","labelExpr":"['Genome','nsm−1','nsm+1','nsm+2','nsm+3','nsm+4','nsm+5','Genome'][datum.value]","labelFontSize":14,"titleFontSize":13,"tickSize":4,"labelPadding":2,"titlePadding":3,"grid":true}},
    "y":{"field":"v","type":"quantitative","scale":{"domain":[-1.02,22.97],"nice":false,"zero":false},"axis":{"title":"ΔNPS, %","values":[0,5,10,15,20],"labelFontSize":14,"titleFontSize":12.8,"tickSize":4,"labelPadding":2,"titlePadding":4,"grid":true}},
    "color":{"field":"s","type":"nominal","scale":{"domain":["q1","q2","q3","q4","all"],"range":["#0000ff","#00ff00","#ffa500","#ff0000","#000000"]},
     "legend":{"orient":"none","legendX":37,"legendY":12,"direction":"horizontal","columns":5,"title":null,"labelExpr":"datum.label=='q1'?'1st 25%−ile':datum.label=='q2'?'2nd 25%−ile':datum.label=='q3'?'3rd 25%−ile':datum.label=='q4'?'4th 25%−ile':'all'","labelFontSize":9.6,"symbolType":"M-1,0L1,0M0.3,0A0.3,0.3,0,1,1,-0.3,0A0.3,0.3,0,1,1,0.3,0Z","symbolSize":144,"symbolStrokeWidth":1.5,"columnPadding":-4,"labelOffset":2,"fillColor":"white","padding":2}}}},
  {"transform":[{"filter":"datum.s!='all'"}],"mark":{"type":"circle","size":28,"opacity":1},
   "encoding":{"x":{"field":"x","type":"ordinal"},"y":{"field":"v","type":"quantitative","axis":null},
    "fill":{"field":"s","type":"nominal","scale":{"domain":["q1","q2","q3","q4","all"],"range":["#0000ff","#00ff00","#ffa500","#ff0000","#000000"]},"legend":null}}},
  {"transform":[{"filter":"datum.s=='all' && datum.x==0"}],"mark":{"type":"rule","strokeDash":[8,5],"strokeWidth":2.5,"color":"black"},
   "encoding":{"y":{"field":"v","type":"quantitative","axis":{"orient":"right","values":[2.5,7.5,12.5,17.5,22.5],"grid":true,"gridColor":"#f4f4f4","gridWidth":0.6,"labels":false,"ticks":false,"domain":false,"title":null}}}},
  {"transform":[{"filter":"datum.s=='all'"}],"mark":{"type":"line","strokeWidth":2.7},
   "encoding":{"x":{"field":"x","type":"ordinal"},"y":{"field":"v","type":"quantitative","axis":null},
    "color":{"field":"s","type":"nominal","scale":{"domain":["q1","q2","q3","q4","all"],"range":["#0000ff","#00ff00","#ffa500","#ff0000","#000000"]}}}},
  {"transform":[{"filter":"datum.s=='all'"}],"mark":{"type":"circle","size":28,"opacity":1},
   "encoding":{"x":{"field":"x","type":"ordinal"},"y":{"field":"v","type":"quantitative","axis":null},
    "fill":{"field":"s","type":"nominal","scale":{"domain":["q1","q2","q3","q4","all"],"range":["#0000ff","#00ff00","#ffa500","#ff0000","#000000"]},"legend":null}}}
 ]}
], "spacing": 0, "bounds": "flush",
 "resolve": {"scale": {"color": "independent", "fill": "independent"}, "legend": {"color": "independent", "fill": "independent"}}}
],
"config": {
 "view": {"stroke": "#555555", "strokeWidth": 1},
 "title": {"font": "Lato", "fontSize": 23.5, "fontWeight": "normal", "anchor": "start", "frame": "group", "color": "#000000"},
 "axis": {"labelFont": "Liberation Sans", "titleFont": "Liberation Sans", "labelColor": "#4d4d4d", "titleColor": "#1a1a1a", "titleFontWeight": "normal", "tickColor": "#333333", "gridColor": "#ebebeb", "domain": false},
 "legend": {"labelFont": "Liberation Sans", "labelColor": "#1a1a1a"}
}
}
